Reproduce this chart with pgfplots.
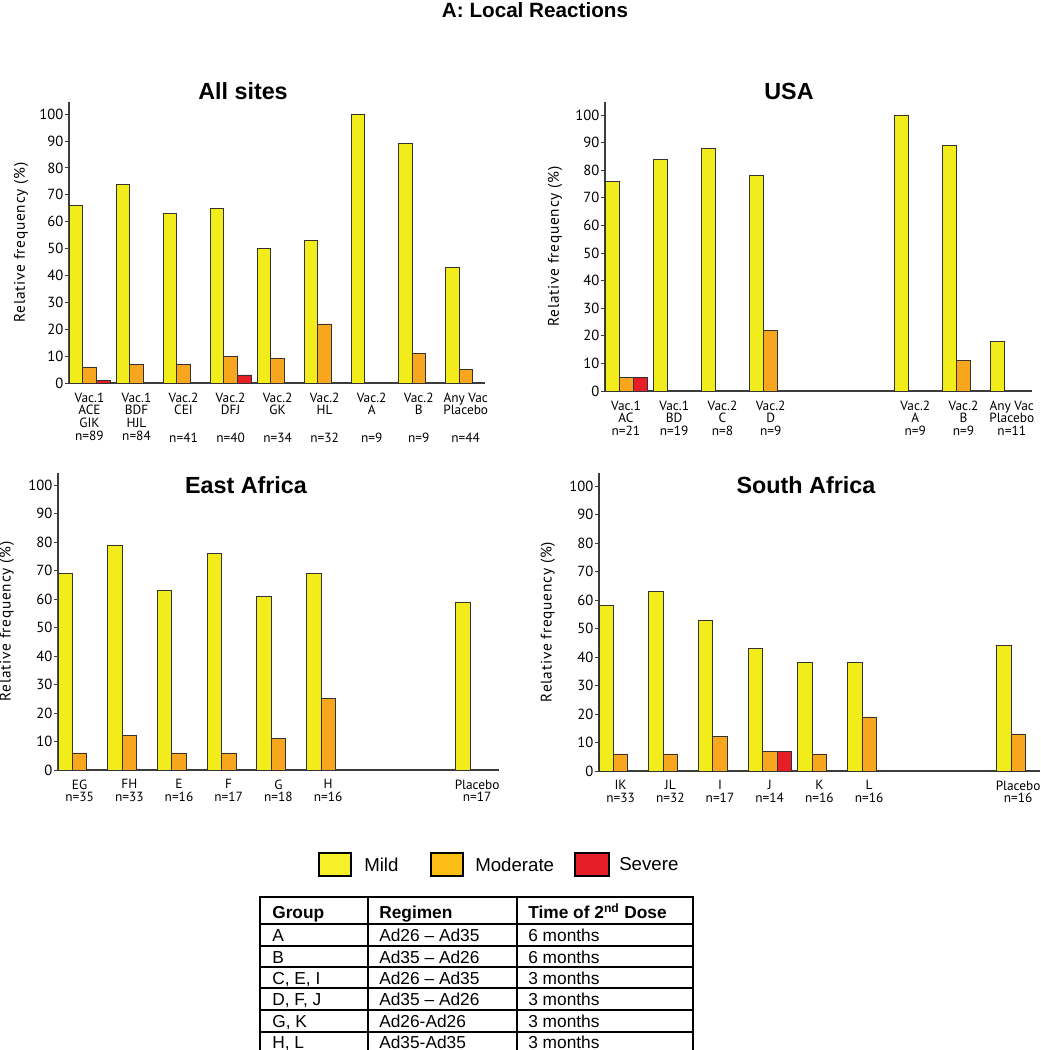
\documentclass[border=0pt]{standalone}
\usepackage{pgfplots}
\pgfplotsset{compat=1.18}
\usepackage{fontspec}
\setmainfont{Liberation Sans}
\newfontfamily\axfont{PT Sans}
\newfontfamily\labfont[LetterSpace=5]{PT Sans}
\definecolor{mild}{RGB}{242,236,26}
\definecolor{moder}{RGB}{247,166,30}
\definecolor{sev}{RGB}{230,30,38}
\definecolor{legmild}{RGB}{245,240,40}
\definecolor{legmod}{RGB}{252,190,20}
\definecolor{axgray}{RGB}{60,60,60}
\pgfplotsset{
  panel/.style={scale only axis, anchor=south west, axis lines=left,
    axis line style={axgray, line width=0.8pt, -},
    ymin=0, ytick={0,10,...,100}, xmin=-0.435,
    ybar, bar width=0.29, tick align=outside,
    ytick style={axgray, line width=0.6pt}, major tick length=3pt,
    xtick style={draw=none},
    /pgf/number format/assume math mode=true,
    yticklabel style={font=\axfont\fontsize{11}{12}\selectfont, inner sep=1pt},
    xticklabel style={font=\axfont\fontsize{10}{9.6}\selectfont, align=center, anchor=north, inner sep=1pt, yshift=-3pt},
    ylabel={Relative frequency (\%)},
    ylabel style={font=\labfont\fontsize{11.5}{13}\selectfont, anchor=center},
    every axis plot/.append style={draw=black!80, line width=0.5pt},
  },
  ylab/.style={ylabel style={at={(axis description cs:#1,0.5)}}},
}
\begin{document}
\begin{tikzpicture}
\useasboundingbox (0,0) rectangle (780pt,-787.5pt);
\clip (0,0) rectangle (780pt,-787.5pt);

% All sites
\begin{axis}[panel, ylab=-0.115, at={(51.75pt,-287.25pt)}, width=312pt, height=210.75pt,
  xmax=8.41, ymax=104.5, xtick={0,...,8},
  xticklabels={{Vac.1\\ACE\\GIK\\n=89},{Vac.1\\BDF\\HJL\\n=84},{Vac.2\\CEI\\\strut\\n=41},{Vac.2\\DFJ\\\strut\\n=40},{Vac.2\\GK\\\strut\\n=34},{Vac.2\\HL\\\strut\\n=32},{Vac.2\\A\\\strut\\n=9},{Vac.2\\B\\\strut\\n=9},{Any Vac\\Placebo\\\strut\\n=44}}]
\addplot[fill=mild, bar shift=-0.29] coordinates {(0,66)(1,74)(2,63)(3,65)(4,50)(5,53)(6,100)(7,89)(8,43)};
\addplot[fill=moder, bar shift=0] coordinates {(0,6)(1,7)(2,7)(3,10)(4,9)(5,22)(7,11)(8,5)};
\addplot[fill=sev, bar shift=0.29] coordinates {(0,1)(3,3)};
\end{axis}

% USA
\begin{axis}[panel, ylab=-0.117, at={(453.75pt,-293.25pt)}, width=320.25pt, height=216.75pt,
  xmax=8.42, ymax=104.7, xtick={0,1,2,3,6,7,8},
  xticklabels={{Vac.1\\AC\\n=21},{Vac.1\\BD\\n=19},{Vac.2\\C\\n=8},{Vac.2\\D\\n=9},{Vac.2\\A\\n=9},{Vac.2\\B\\n=9},{Any Vac\\Placebo\\n=11}}]
\addplot[fill=mild, bar shift=-0.29] coordinates {(0,76)(1,84)(2,88)(3,78)(6,100)(7,89)(8,18)};
\addplot[fill=moder, bar shift=0] coordinates {(0,5)(3,22)(7,11)};
\addplot[fill=sev, bar shift=0.29] coordinates {(0,5)};
\end{axis}

% East Africa
\begin{axis}[panel, ylab=-0.116, at={(43.5pt,-577.5pt)}, width=330.75pt, height=222.75pt,
  xmax=8.44, ymax=104.2, xtick={0,1,2,3,4,5,8},
  xticklabels={{EG\\n=35},{FH\\n=33},{E\\n=16},{F\\n=17},{G\\n=18},{H\\n=16},{Placebo\\n=17}}]
\addplot[fill=mild, bar shift=-0.29] coordinates {(0,69)(1,79)(2,63)(3,76)(4,61)(5,69)(8,59)};
\addplot[fill=moder, bar shift=0] coordinates {(0,6)(1,12)(2,6)(3,6)(4,11)(5,25)};
\end{axis}

% South Africa
\begin{axis}[panel, ylab=-0.116, at={(449.25pt,-578.25pt)}, width=330.75pt, height=223.5pt,
  xmax=8.44, ymax=104.6, xtick={0,1,2,3,4,5,8},
  xticklabels={{IK\\n=33},{JL\\n=32},{I\\n=17},{J\\n=14},{K\\n=16},{L\\n=16},{Placebo\\n=16}}]
\addplot[fill=mild, bar shift=-0.29] coordinates {(0,58)(1,63)(2,53)(3,43)(4,38)(5,38)(8,44)};
\addplot[fill=moder, bar shift=0] coordinates {(0,6)(1,6)(2,12)(3,7)(4,6)(5,19)(8,13)};
\addplot[fill=sev, bar shift=0.29] coordinates {(3,7)};
\end{axis}

\begin{scope}[x=0.75pt,y=-0.75pt]
\node[font=\bfseries\fontsize{15.5}{18}\selectfont] at (535,10) {A: Local Reactions};
\node[font=\bfseries\fontsize{17.5}{20}\selectfont] at (243,91) {All sites};
\node[font=\bfseries\fontsize{17.5}{20}\selectfont] at (789,91) {USA};
\node[font=\bfseries\fontsize{17.5}{20}\selectfont] at (246,485) {East Africa};
\node[font=\bfseries\fontsize{17.5}{20}\selectfont] at (806,485) {South Africa};
% legend
\draw[line width=1.5pt, fill=legmild] (319,853) rectangle (351,876);
\node[anchor=west, font=\fontsize{14}{16}\selectfont, inner sep=0pt] at (364,864.5) {Mild};
\draw[line width=1.5pt, fill=legmod] (431,853) rectangle (463,876);
\node[anchor=west, font=\fontsize{14}{16}\selectfont, inner sep=0pt] at (475,864.5) {Moderate};
\draw[line width=1.5pt, fill=sev] (575,853) rectangle (609,876);
\node[anchor=west, font=\fontsize{14}{16}\selectfont, inner sep=0pt] at (619,864.5) {Severe};
% table
\draw[line width=1.6pt] (260,897) rectangle (693,1060);
\foreach \yy in {924,946,967,988,1010,1032} \draw[line width=1.4pt] (260,\yy) -- (693,\yy);
\draw[line width=1.4pt] (368,897) -- (368,1060);
\draw[line width=1.4pt] (517,897) -- (517,1060);
\begin{scope}[every node/.style={anchor=base west, font=\fontsize{13}{15}\selectfont, inner sep=0pt}]
\node at (272,918) {\textbf{Group}};
\node at (379,918) {\textbf{Regimen}};
\node at (528,918) {\textbf{Time of 2\textsuperscript{nd} Dose}};
\node at (272,941) {A};      \node at (379,941) {Ad26 – Ad35}; \node at (528,941) {6 months};
\node at (272,963) {B};      \node at (379,963) {Ad35 – Ad26}; \node at (528,963) {6 months};
\node at (272,984) {C, E, I}; \node at (379,984) {Ad26 – Ad35}; \node at (528,984) {3 months};
\node at (272,1005) {D, F, J}; \node at (379,1005) {Ad35 – Ad26}; \node at (528,1005) {3 months};
\node at (272,1027) {G, K};   \node at (379,1027) {Ad26-Ad26};  \node at (528,1027) {3 months};
\node at (272,1048) {H, L};   \node at (379,1048) {Ad35-Ad35};  \node at (528,1048) {3 months};
\end{scope}
\end{scope}
\end{tikzpicture}
\end{document}
